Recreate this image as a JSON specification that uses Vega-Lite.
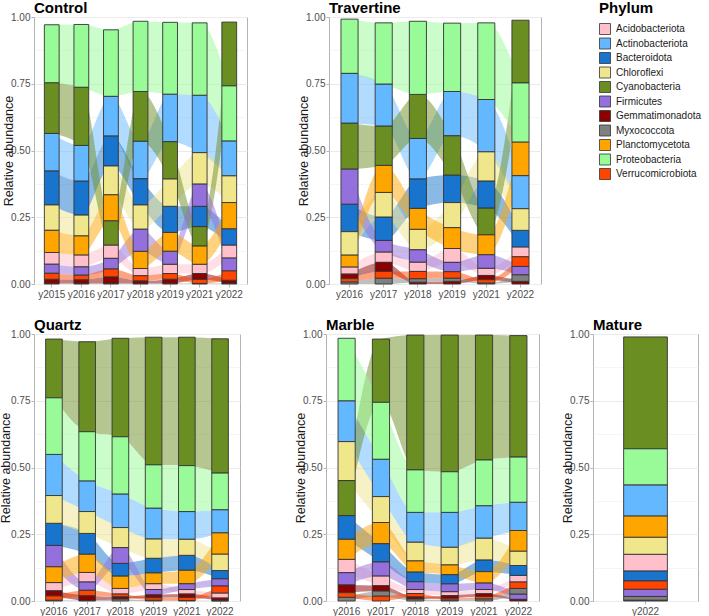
{
"$schema":"https://vega.github.io/schema/vega-lite/v6.json",
"padding":{"left":-1,"top":0,"right":0,"bottom":0},
"data":{"values":[
{"site":"Control","year":"y2015","phylum":"Acidobacteriota","value":0.044},
{"site":"Control","year":"y2015","phylum":"Actinobacteriota","value":0.141},
{"site":"Control","year":"y2015","phylum":"Bacteroidota","value":0.127},
{"site":"Control","year":"y2015","phylum":"Chloroflexi","value":0.095},
{"site":"Control","year":"y2015","phylum":"Cyanobacteria","value":0.190},
{"site":"Control","year":"y2015","phylum":"Firmicutes","value":0.034},
{"site":"Control","year":"y2015","phylum":"Gemmatimonadota","value":0.016},
{"site":"Control","year":"y2015","phylum":"Myxococcota","value":0.002},
{"site":"Control","year":"y2015","phylum":"Planctomycetota","value":0.083},
{"site":"Control","year":"y2015","phylum":"Proteobacteria","value":0.217},
{"site":"Control","year":"y2015","phylum":"Verrucomicrobiota","value":0.022},
{"site":"Control","year":"y2016","phylum":"Acidobacteriota","value":0.045},
{"site":"Control","year":"y2016","phylum":"Actinobacteriota","value":0.134},
{"site":"Control","year":"y2016","phylum":"Bacteroidota","value":0.127},
{"site":"Control","year":"y2016","phylum":"Chloroflexi","value":0.078},
{"site":"Control","year":"y2016","phylum":"Cyanobacteria","value":0.218},
{"site":"Control","year":"y2016","phylum":"Firmicutes","value":0.031},
{"site":"Control","year":"y2016","phylum":"Gemmatimonadota","value":0.014},
{"site":"Control","year":"y2016","phylum":"Myxococcota","value":0.002},
{"site":"Control","year":"y2016","phylum":"Planctomycetota","value":0.071},
{"site":"Control","year":"y2016","phylum":"Proteobacteria","value":0.235},
{"site":"Control","year":"y2016","phylum":"Verrucomicrobiota","value":0.017},
{"site":"Control","year":"y2017","phylum":"Acidobacteriota","value":0.050},
{"site":"Control","year":"y2017","phylum":"Actinobacteriota","value":0.149},
{"site":"Control","year":"y2017","phylum":"Bacteroidota","value":0.112},
{"site":"Control","year":"y2017","phylum":"Chloroflexi","value":0.108},
{"site":"Control","year":"y2017","phylum":"Cyanobacteria","value":0.091},
{"site":"Control","year":"y2017","phylum":"Firmicutes","value":0.040},
{"site":"Control","year":"y2017","phylum":"Gemmatimonadota","value":0.025},
{"site":"Control","year":"y2017","phylum":"Myxococcota","value":0.002},
{"site":"Control","year":"y2017","phylum":"Planctomycetota","value":0.097},
{"site":"Control","year":"y2017","phylum":"Proteobacteria","value":0.249},
{"site":"Control","year":"y2017","phylum":"Verrucomicrobiota","value":0.029},
{"site":"Control","year":"y2018","phylum":"Acidobacteriota","value":0.027},
{"site":"Control","year":"y2018","phylum":"Actinobacteriota","value":0.141},
{"site":"Control","year":"y2018","phylum":"Bacteroidota","value":0.098},
{"site":"Control","year":"y2018","phylum":"Chloroflexi","value":0.091},
{"site":"Control","year":"y2018","phylum":"Cyanobacteria","value":0.186},
{"site":"Control","year":"y2018","phylum":"Firmicutes","value":0.083},
{"site":"Control","year":"y2018","phylum":"Gemmatimonadota","value":0.010},
{"site":"Control","year":"y2018","phylum":"Myxococcota","value":0.002},
{"site":"Control","year":"y2018","phylum":"Planctomycetota","value":0.064},
{"site":"Control","year":"y2018","phylum":"Proteobacteria","value":0.263},
{"site":"Control","year":"y2018","phylum":"Verrucomicrobiota","value":0.019},
{"site":"Control","year":"y2019","phylum":"Acidobacteriota","value":0.035},
{"site":"Control","year":"y2019","phylum":"Actinobacteriota","value":0.178},
{"site":"Control","year":"y2019","phylum":"Bacteroidota","value":0.098},
{"site":"Control","year":"y2019","phylum":"Chloroflexi","value":0.103},
{"site":"Control","year":"y2019","phylum":"Cyanobacteria","value":0.139},
{"site":"Control","year":"y2019","phylum":"Firmicutes","value":0.049},
{"site":"Control","year":"y2019","phylum":"Gemmatimonadota","value":0.016},
{"site":"Control","year":"y2019","phylum":"Myxococcota","value":0.002},
{"site":"Control","year":"y2019","phylum":"Planctomycetota","value":0.070},
{"site":"Control","year":"y2019","phylum":"Proteobacteria","value":0.269},
{"site":"Control","year":"y2019","phylum":"Verrucomicrobiota","value":0.021},
{"site":"Control","year":"y2021","phylum":"Acidobacteriota","value":0.035},
{"site":"Control","year":"y2021","phylum":"Actinobacteriota","value":0.215},
{"site":"Control","year":"y2021","phylum":"Bacteroidota","value":0.076},
{"site":"Control","year":"y2021","phylum":"Chloroflexi","value":0.118},
{"site":"Control","year":"y2021","phylum":"Cyanobacteria","value":0.073},
{"site":"Control","year":"y2021","phylum":"Firmicutes","value":0.083},
{"site":"Control","year":"y2021","phylum":"Gemmatimonadota","value":0.022},
{"site":"Control","year":"y2021","phylum":"Myxococcota","value":0.002},
{"site":"Control","year":"y2021","phylum":"Planctomycetota","value":0.068},
{"site":"Control","year":"y2021","phylum":"Proteobacteria","value":0.271},
{"site":"Control","year":"y2021","phylum":"Verrucomicrobiota","value":0.015},
{"site":"Control","year":"y2022","phylum":"Acidobacteriota","value":0.049},
{"site":"Control","year":"y2022","phylum":"Actinobacteriota","value":0.131},
{"site":"Control","year":"y2022","phylum":"Bacteroidota","value":0.061},
{"site":"Control","year":"y2022","phylum":"Chloroflexi","value":0.100},
{"site":"Control","year":"y2022","phylum":"Cyanobacteria","value":0.239},
{"site":"Control","year":"y2022","phylum":"Firmicutes","value":0.048},
{"site":"Control","year":"y2022","phylum":"Gemmatimonadota","value":0.012},
{"site":"Control","year":"y2022","phylum":"Myxococcota","value":0.002},
{"site":"Control","year":"y2022","phylum":"Planctomycetota","value":0.098},
{"site":"Control","year":"y2022","phylum":"Proteobacteria","value":0.206},
{"site":"Control","year":"y2022","phylum":"Verrucomicrobiota","value":0.035},
{"site":"Travertine","year":"y2016","phylum":"Acidobacteriota","value":0.027},
{"site":"Travertine","year":"y2016","phylum":"Actinobacteriota","value":0.187},
{"site":"Travertine","year":"y2016","phylum":"Bacteroidota","value":0.103},
{"site":"Travertine","year":"y2016","phylum":"Chloroflexi","value":0.088},
{"site":"Travertine","year":"y2016","phylum":"Cyanobacteria","value":0.172},
{"site":"Travertine","year":"y2016","phylum":"Firmicutes","value":0.131},
{"site":"Travertine","year":"y2016","phylum":"Gemmatimonadota","value":0.017},
{"site":"Travertine","year":"y2016","phylum":"Myxococcota","value":0.008},
{"site":"Travertine","year":"y2016","phylum":"Planctomycetota","value":0.044},
{"site":"Travertine","year":"y2016","phylum":"Proteobacteria","value":0.203},
{"site":"Travertine","year":"y2016","phylum":"Verrucomicrobiota","value":0.012},
{"site":"Travertine","year":"y2017","phylum":"Acidobacteriota","value":0.039},
{"site":"Travertine","year":"y2017","phylum":"Actinobacteriota","value":0.158},
{"site":"Travertine","year":"y2017","phylum":"Bacteroidota","value":0.088},
{"site":"Travertine","year":"y2017","phylum":"Chloroflexi","value":0.092},
{"site":"Travertine","year":"y2017","phylum":"Cyanobacteria","value":0.147},
{"site":"Travertine","year":"y2017","phylum":"Firmicutes","value":0.043},
{"site":"Travertine","year":"y2017","phylum":"Gemmatimonadota","value":0.034},
{"site":"Travertine","year":"y2017","phylum":"Myxococcota","value":0.022},
{"site":"Travertine","year":"y2017","phylum":"Planctomycetota","value":0.101},
{"site":"Travertine","year":"y2017","phylum":"Proteobacteria","value":0.229},
{"site":"Travertine","year":"y2017","phylum":"Verrucomicrobiota","value":0.025},
{"site":"Travertine","year":"y2018","phylum":"Acidobacteriota","value":0.035},
{"site":"Travertine","year":"y2018","phylum":"Actinobacteriota","value":0.152},
{"site":"Travertine","year":"y2018","phylum":"Bacteroidota","value":0.110},
{"site":"Travertine","year":"y2018","phylum":"Chloroflexi","value":0.077},
{"site":"Travertine","year":"y2018","phylum":"Cyanobacteria","value":0.165},
{"site":"Travertine","year":"y2018","phylum":"Firmicutes","value":0.046},
{"site":"Travertine","year":"y2018","phylum":"Gemmatimonadota","value":0.007},
{"site":"Travertine","year":"y2018","phylum":"Myxococcota","value":0.013},
{"site":"Travertine","year":"y2018","phylum":"Planctomycetota","value":0.078},
{"site":"Travertine","year":"y2018","phylum":"Proteobacteria","value":0.274},
{"site":"Travertine","year":"y2018","phylum":"Verrucomicrobiota","value":0.027},
{"site":"Travertine","year":"y2019","phylum":"Acidobacteriota","value":0.052},
{"site":"Travertine","year":"y2019","phylum":"Actinobacteriota","value":0.166},
{"site":"Travertine","year":"y2019","phylum":"Bacteroidota","value":0.103},
{"site":"Travertine","year":"y2019","phylum":"Chloroflexi","value":0.094},
{"site":"Travertine","year":"y2019","phylum":"Cyanobacteria","value":0.147},
{"site":"Travertine","year":"y2019","phylum":"Firmicutes","value":0.035},
{"site":"Travertine","year":"y2019","phylum":"Gemmatimonadota","value":0.010},
{"site":"Travertine","year":"y2019","phylum":"Myxococcota","value":0.012},
{"site":"Travertine","year":"y2019","phylum":"Planctomycetota","value":0.078},
{"site":"Travertine","year":"y2019","phylum":"Proteobacteria","value":0.256},
{"site":"Travertine","year":"y2019","phylum":"Verrucomicrobiota","value":0.024},
{"site":"Travertine","year":"y2021","phylum":"Acidobacteriota","value":0.027},
{"site":"Travertine","year":"y2021","phylum":"Actinobacteriota","value":0.196},
{"site":"Travertine","year":"y2021","phylum":"Bacteroidota","value":0.102},
{"site":"Travertine","year":"y2021","phylum":"Chloroflexi","value":0.109},
{"site":"Travertine","year":"y2021","phylum":"Cyanobacteria","value":0.100},
{"site":"Travertine","year":"y2021","phylum":"Firmicutes","value":0.051},
{"site":"Travertine","year":"y2021","phylum":"Gemmatimonadota","value":0.016},
{"site":"Travertine","year":"y2021","phylum":"Myxococcota","value":0.004},
{"site":"Travertine","year":"y2021","phylum":"Planctomycetota","value":0.074},
{"site":"Travertine","year":"y2021","phylum":"Proteobacteria","value":0.287},
{"site":"Travertine","year":"y2021","phylum":"Verrucomicrobiota","value":0.012},
{"site":"Travertine","year":"y2022","phylum":"Acidobacteriota","value":0.037},
{"site":"Travertine","year":"y2022","phylum":"Actinobacteriota","value":0.124},
{"site":"Travertine","year":"y2022","phylum":"Bacteroidota","value":0.062},
{"site":"Travertine","year":"y2022","phylum":"Chloroflexi","value":0.081},
{"site":"Travertine","year":"y2022","phylum":"Cyanobacteria","value":0.235},
{"site":"Travertine","year":"y2022","phylum":"Firmicutes","value":0.032},
{"site":"Travertine","year":"y2022","phylum":"Gemmatimonadota","value":0.010},
{"site":"Travertine","year":"y2022","phylum":"Myxococcota","value":0.024},
{"site":"Travertine","year":"y2022","phylum":"Planctomycetota","value":0.126},
{"site":"Travertine","year":"y2022","phylum":"Proteobacteria","value":0.221},
{"site":"Travertine","year":"y2022","phylum":"Verrucomicrobiota","value":0.036},
{"site":"Quartz","year":"y2016","phylum":"Acidobacteriota","value":0.031},
{"site":"Quartz","year":"y2016","phylum":"Actinobacteriota","value":0.154},
{"site":"Quartz","year":"y2016","phylum":"Bacteroidota","value":0.083},
{"site":"Quartz","year":"y2016","phylum":"Chloroflexi","value":0.104},
{"site":"Quartz","year":"y2016","phylum":"Cyanobacteria","value":0.220},
{"site":"Quartz","year":"y2016","phylum":"Firmicutes","value":0.080},
{"site":"Quartz","year":"y2016","phylum":"Gemmatimonadota","value":0.019},
{"site":"Quartz","year":"y2016","phylum":"Myxococcota","value":0.003},
{"site":"Quartz","year":"y2016","phylum":"Planctomycetota","value":0.059},
{"site":"Quartz","year":"y2016","phylum":"Proteobacteria","value":0.212},
{"site":"Quartz","year":"y2016","phylum":"Verrucomicrobiota","value":0.016},
{"site":"Quartz","year":"y2017","phylum":"Acidobacteriota","value":0.036},
{"site":"Quartz","year":"y2017","phylum":"Actinobacteriota","value":0.115},
{"site":"Quartz","year":"y2017","phylum":"Bacteroidota","value":0.078},
{"site":"Quartz","year":"y2017","phylum":"Chloroflexi","value":0.082},
{"site":"Quartz","year":"y2017","phylum":"Cyanobacteria","value":0.337},
{"site":"Quartz","year":"y2017","phylum":"Firmicutes","value":0.031},
{"site":"Quartz","year":"y2017","phylum":"Gemmatimonadota","value":0.018},
{"site":"Quartz","year":"y2017","phylum":"Myxococcota","value":0.002},
{"site":"Quartz","year":"y2017","phylum":"Planctomycetota","value":0.068},
{"site":"Quartz","year":"y2017","phylum":"Proteobacteria","value":0.184},
{"site":"Quartz","year":"y2017","phylum":"Verrucomicrobiota","value":0.020},
{"site":"Quartz","year":"y2018","phylum":"Acidobacteriota","value":0.021},
{"site":"Quartz","year":"y2018","phylum":"Actinobacteriota","value":0.126},
{"site":"Quartz","year":"y2018","phylum":"Bacteroidota","value":0.048},
{"site":"Quartz","year":"y2018","phylum":"Chloroflexi","value":0.075},
{"site":"Quartz","year":"y2018","phylum":"Cyanobacteria","value":0.369},
{"site":"Quartz","year":"y2018","phylum":"Firmicutes","value":0.059},
{"site":"Quartz","year":"y2018","phylum":"Gemmatimonadota","value":0.009},
{"site":"Quartz","year":"y2018","phylum":"Myxococcota","value":0.007},
{"site":"Quartz","year":"y2018","phylum":"Planctomycetota","value":0.046},
{"site":"Quartz","year":"y2018","phylum":"Proteobacteria","value":0.214},
{"site":"Quartz","year":"y2018","phylum":"Verrucomicrobiota","value":0.010},
{"site":"Quartz","year":"y2019","phylum":"Acidobacteriota","value":0.022},
{"site":"Quartz","year":"y2019","phylum":"Actinobacteriota","value":0.116},
{"site":"Quartz","year":"y2019","phylum":"Bacteroidota","value":0.055},
{"site":"Quartz","year":"y2019","phylum":"Chloroflexi","value":0.072},
{"site":"Quartz","year":"y2019","phylum":"Cyanobacteria","value":0.478},
{"site":"Quartz","year":"y2019","phylum":"Firmicutes","value":0.020},
{"site":"Quartz","year":"y2019","phylum":"Gemmatimonadota","value":0.011},
{"site":"Quartz","year":"y2019","phylum":"Myxococcota","value":0.003},
{"site":"Quartz","year":"y2019","phylum":"Planctomycetota","value":0.040},
{"site":"Quartz","year":"y2019","phylum":"Proteobacteria","value":0.162},
{"site":"Quartz","year":"y2019","phylum":"Verrucomicrobiota","value":0.009},
{"site":"Quartz","year":"y2021","phylum":"Acidobacteriota","value":0.017},
{"site":"Quartz","year":"y2021","phylum":"Actinobacteriota","value":0.104},
{"site":"Quartz","year":"y2021","phylum":"Bacteroidota","value":0.056},
{"site":"Quartz","year":"y2021","phylum":"Chloroflexi","value":0.060},
{"site":"Quartz","year":"y2021","phylum":"Cyanobacteria","value":0.481},
{"site":"Quartz","year":"y2021","phylum":"Firmicutes","value":0.022},
{"site":"Quartz","year":"y2021","phylum":"Gemmatimonadota","value":0.013},
{"site":"Quartz","year":"y2021","phylum":"Myxococcota","value":0.002},
{"site":"Quartz","year":"y2021","phylum":"Planctomycetota","value":0.050},
{"site":"Quartz","year":"y2021","phylum":"Proteobacteria","value":0.172},
{"site":"Quartz","year":"y2021","phylum":"Verrucomicrobiota","value":0.011},
{"site":"Quartz","year":"y2022","phylum":"Acidobacteriota","value":0.019},
{"site":"Quartz","year":"y2022","phylum":"Actinobacteriota","value":0.087},
{"site":"Quartz","year":"y2022","phylum":"Bacteroidota","value":0.031},
{"site":"Quartz","year":"y2022","phylum":"Chloroflexi","value":0.062},
{"site":"Quartz","year":"y2022","phylum":"Cyanobacteria","value":0.503},
{"site":"Quartz","year":"y2022","phylum":"Firmicutes","value":0.027},
{"site":"Quartz","year":"y2022","phylum":"Gemmatimonadota","value":0.010},
{"site":"Quartz","year":"y2022","phylum":"Myxococcota","value":0.001},
{"site":"Quartz","year":"y2022","phylum":"Planctomycetota","value":0.079},
{"site":"Quartz","year":"y2022","phylum":"Proteobacteria","value":0.137},
{"site":"Quartz","year":"y2022","phylum":"Verrucomicrobiota","value":0.026},
{"site":"Marble","year":"y2016","phylum":"Acidobacteriota","value":0.050},
{"site":"Marble","year":"y2016","phylum":"Actinobacteriota","value":0.153},
{"site":"Marble","year":"y2016","phylum":"Bacteroidota","value":0.089},
{"site":"Marble","year":"y2016","phylum":"Chloroflexi","value":0.146},
{"site":"Marble","year":"y2016","phylum":"Cyanobacteria","value":0.131},
{"site":"Marble","year":"y2016","phylum":"Firmicutes","value":0.046},
{"site":"Marble","year":"y2016","phylum":"Gemmatimonadota","value":0.029},
{"site":"Marble","year":"y2016","phylum":"Myxococcota","value":0.014},
{"site":"Marble","year":"y2016","phylum":"Planctomycetota","value":0.075},
{"site":"Marble","year":"y2016","phylum":"Proteobacteria","value":0.234},
{"site":"Marble","year":"y2016","phylum":"Verrucomicrobiota","value":0.017},
{"site":"Marble","year":"y2017","phylum":"Acidobacteriota","value":0.037},
{"site":"Marble","year":"y2017","phylum":"Actinobacteriota","value":0.140},
{"site":"Marble","year":"y2017","phylum":"Bacteroidota","value":0.069},
{"site":"Marble","year":"y2017","phylum":"Chloroflexi","value":0.097},
{"site":"Marble","year":"y2017","phylum":"Cyanobacteria","value":0.237},
{"site":"Marble","year":"y2017","phylum":"Firmicutes","value":0.052},
{"site":"Marble","year":"y2017","phylum":"Gemmatimonadota","value":0.020},
{"site":"Marble","year":"y2017","phylum":"Myxococcota","value":0.019},
{"site":"Marble","year":"y2017","phylum":"Planctomycetota","value":0.079},
{"site":"Marble","year":"y2017","phylum":"Proteobacteria","value":0.213},
{"site":"Marble","year":"y2017","phylum":"Verrucomicrobiota","value":0.018},
{"site":"Marble","year":"y2018","phylum":"Acidobacteriota","value":0.015},
{"site":"Marble","year":"y2018","phylum":"Actinobacteriota","value":0.112},
{"site":"Marble","year":"y2018","phylum":"Bacteroidota","value":0.037},
{"site":"Marble","year":"y2018","phylum":"Chloroflexi","value":0.070},
{"site":"Marble","year":"y2018","phylum":"Cyanobacteria","value":0.505},
{"site":"Marble","year":"y2018","phylum":"Firmicutes","value":0.029},
{"site":"Marble","year":"y2018","phylum":"Gemmatimonadota","value":0.009},
{"site":"Marble","year":"y2018","phylum":"Myxococcota","value":0.007},
{"site":"Marble","year":"y2018","phylum":"Planctomycetota","value":0.041},
{"site":"Marble","year":"y2018","phylum":"Proteobacteria","value":0.159},
{"site":"Marble","year":"y2018","phylum":"Verrucomicrobiota","value":0.012},
{"site":"Marble","year":"y2019","phylum":"Acidobacteriota","value":0.015},
{"site":"Marble","year":"y2019","phylum":"Actinobacteriota","value":0.131},
{"site":"Marble","year":"y2019","phylum":"Bacteroidota","value":0.035},
{"site":"Marble","year":"y2019","phylum":"Chloroflexi","value":0.066},
{"site":"Marble","year":"y2019","phylum":"Cyanobacteria","value":0.512},
{"site":"Marble","year":"y2019","phylum":"Firmicutes","value":0.029},
{"site":"Marble","year":"y2019","phylum":"Gemmatimonadota","value":0.010},
{"site":"Marble","year":"y2019","phylum":"Myxococcota","value":0.004},
{"site":"Marble","year":"y2019","phylum":"Planctomycetota","value":0.036},
{"site":"Marble","year":"y2019","phylum":"Proteobacteria","value":0.152},
{"site":"Marble","year":"y2019","phylum":"Verrucomicrobiota","value":0.006},
{"site":"Marble","year":"y2021","phylum":"Acidobacteriota","value":0.016},
{"site":"Marble","year":"y2021","phylum":"Actinobacteriota","value":0.122},
{"site":"Marble","year":"y2021","phylum":"Bacteroidota","value":0.044},
{"site":"Marble","year":"y2021","phylum":"Chloroflexi","value":0.081},
{"site":"Marble","year":"y2021","phylum":"Cyanobacteria","value":0.468},
{"site":"Marble","year":"y2021","phylum":"Firmicutes","value":0.025},
{"site":"Marble","year":"y2021","phylum":"Gemmatimonadota","value":0.010},
{"site":"Marble","year":"y2021","phylum":"Myxococcota","value":0.008},
{"site":"Marble","year":"y2021","phylum":"Planctomycetota","value":0.042},
{"site":"Marble","year":"y2021","phylum":"Proteobacteria","value":0.171},
{"site":"Marble","year":"y2021","phylum":"Verrucomicrobiota","value":0.009},
{"site":"Marble","year":"y2022","phylum":"Acidobacteriota","value":0.025},
{"site":"Marble","year":"y2022","phylum":"Actinobacteriota","value":0.106},
{"site":"Marble","year":"y2022","phylum":"Bacteroidota","value":0.037},
{"site":"Marble","year":"y2022","phylum":"Chloroflexi","value":0.054},
{"site":"Marble","year":"y2022","phylum":"Cyanobacteria","value":0.455},
{"site":"Marble","year":"y2022","phylum":"Firmicutes","value":0.020},
{"site":"Marble","year":"y2022","phylum":"Gemmatimonadota","value":0.006},
{"site":"Marble","year":"y2022","phylum":"Myxococcota","value":0.021},
{"site":"Marble","year":"y2022","phylum":"Planctomycetota","value":0.077},
{"site":"Marble","year":"y2022","phylum":"Proteobacteria","value":0.169},
{"site":"Marble","year":"y2022","phylum":"Verrucomicrobiota","value":0.024},
{"site":"Mature","year":"y2022","phylum":"Acidobacteriota","value":0.063},
{"site":"Mature","year":"y2022","phylum":"Actinobacteriota","value":0.117},
{"site":"Mature","year":"y2022","phylum":"Bacteroidota","value":0.037},
{"site":"Mature","year":"y2022","phylum":"Chloroflexi","value":0.064},
{"site":"Mature","year":"y2022","phylum":"Cyanobacteria","value":0.419},
{"site":"Mature","year":"y2022","phylum":"Firmicutes","value":0.027},
{"site":"Mature","year":"y2022","phylum":"Gemmatimonadota","value":0.003},
{"site":"Mature","year":"y2022","phylum":"Myxococcota","value":0.014},
{"site":"Mature","year":"y2022","phylum":"Planctomycetota","value":0.079},
{"site":"Mature","year":"y2022","phylum":"Proteobacteria","value":0.135},
{"site":"Mature","year":"y2022","phylum":"Verrucomicrobiota","value":0.031}
]},
"resolve":{"scale":{"x":"independent","y":"independent"}},
"spacing":17,
"vconcat":[
{"hconcat":[
{"title":{"text":"Control"},"width":213,"height":267,
"transform":[{"filter":{"field":"site","equal":"Control"}},{"stack":"value","groupby":["year"],"sort":[{"field":"value","order":"ascending"}],"as":["y0","y1"]}],
"encoding":{"y":{"field":"y0","type":"quantitative","title":"Relative abundance","scale":{"domain":[0,1],"nice":false},"axis":{"values":[0,0.125,0.25,0.375,0.5,0.625,0.75,0.875,1]}},"y2":{"field":"y1"},
"color":{"field":"phylum","type":"nominal","title":"Phylum","scale":{"domain":["Acidobacteriota","Actinobacteriota","Bacteroidota","Chloroflexi","Cyanobacteria","Firmicutes","Gemmatimonadota","Myxococcota","Planctomycetota","Proteobacteria","Verrucomicrobiota"],"range":["#FFC0CB","#63B8FF","#1874CD","#F0E68C","#6B8E23","#9370DB","#8B0000","#808080","#FFA500","#98FB98","#FF4500"]}}},
"layer":[
{"mark":{"type":"area","interpolate":"monotone","opacity":0.5},"encoding":{"x":{"field":"year","type":"ordinal","title":null,"bandPosition":0.5,"scale":{"type":"band","paddingInner":0.5,"paddingOuter":0.35}}}},
{"mark":{"type":"bar","stroke":"#333333","strokeWidth":0.9},"encoding":{"x":{"field":"year","type":"ordinal","title":null,"scale":{"type":"band","paddingInner":0.5,"paddingOuter":0.35}}}}
]},
{"title":{"text":"Travertine"},"width":212,"height":267,
"transform":[{"filter":{"field":"site","equal":"Travertine"}},{"stack":"value","groupby":["year"],"sort":[{"field":"value","order":"ascending"}],"as":["y0","y1"]}],
"encoding":{"y":{"field":"y0","type":"quantitative","title":"Relative abundance","scale":{"domain":[0,1],"nice":false},"axis":{"values":[0,0.125,0.25,0.375,0.5,0.625,0.75,0.875,1]}},"y2":{"field":"y1"},
"color":{"field":"phylum","type":"nominal","title":"Phylum"}},
"layer":[
{"mark":{"type":"area","interpolate":"monotone","opacity":0.5},"encoding":{"x":{"field":"year","type":"ordinal","title":null,"bandPosition":0.5,"scale":{"type":"band","paddingInner":0.5,"paddingOuter":0.35}}}},
{"mark":{"type":"bar","stroke":"#333333","strokeWidth":0.9},"encoding":{"x":{"field":"year","type":"ordinal","title":null,"scale":{"type":"band","paddingInner":0.5,"paddingOuter":0.35}}}}
]}
],"spacing":49,"resolve":{"scale":{"x":"independent","y":"independent"}}},
{"hconcat":[
{"title":{"text":"Quartz"},"width":206,"height":267,
"transform":[{"filter":{"field":"site","equal":"Quartz"}},{"stack":"value","groupby":["year"],"sort":[{"field":"value","order":"ascending"}],"as":["y0","y1"]}],
"encoding":{"y":{"field":"y0","type":"quantitative","title":"Relative abundance","scale":{"domain":[0,1],"nice":false},"axis":{"values":[0,0.125,0.25,0.375,0.5,0.625,0.75,0.875,1],"titlePadding":-2}},"y2":{"field":"y1"},
"color":{"field":"phylum","type":"nominal","title":"Phylum"}},
"layer":[
{"mark":{"type":"area","interpolate":"monotone","opacity":0.5},"encoding":{"x":{"field":"year","type":"ordinal","title":null,"bandPosition":0.5,"scale":{"type":"band","paddingInner":0.5,"paddingOuter":0.35}}}},
{"mark":{"type":"bar","stroke":"#333333","strokeWidth":0.9},"encoding":{"x":{"field":"year","type":"ordinal","title":null,"scale":{"type":"band","paddingInner":0.5,"paddingOuter":0.35}}}}
]},
{"hconcat":[
{"title":{"text":"Marble"},"width":213,"height":267,
"transform":[{"filter":{"field":"site","equal":"Marble"}},{"stack":"value","groupby":["year"],"sort":[{"field":"value","order":"ascending"}],"as":["y0","y1"]}],
"encoding":{"y":{"field":"y0","type":"quantitative","title":"Relative abundance","scale":{"domain":[0,1],"nice":false},"axis":{"values":[0,0.125,0.25,0.375,0.5,0.625,0.75,0.875,1]}},"y2":{"field":"y1"},
"color":{"field":"phylum","type":"nominal","title":"Phylum"}},
"layer":[
{"mark":{"type":"area","interpolate":"monotone","opacity":0.5},"encoding":{"x":{"field":"year","type":"ordinal","title":null,"bandPosition":0.5,"scale":{"type":"band","paddingInner":0.5,"paddingOuter":0.35}}}},
{"mark":{"type":"bar","stroke":"#333333","strokeWidth":0.9},"encoding":{"x":{"field":"year","type":"ordinal","title":null,"scale":{"type":"band","paddingInner":0.5,"paddingOuter":0.35}}}}
]},
{"title":{"text":"Mature"},"width":105,"height":267,
"transform":[{"filter":{"field":"site","equal":"Mature"}},{"stack":"value","groupby":["year"],"sort":[{"field":"value","order":"ascending"}],"as":["y0","y1"]}],
"mark":{"type":"bar","stroke":"#333333","strokeWidth":0.9},
"encoding":{"x":{"field":"year","type":"ordinal","title":null,"scale":{"type":"band","paddingInner":0.5,"paddingOuter":0.35}},
"y":{"field":"y0","type":"quantitative","title":"Relative abundance","scale":{"domain":[0,1],"nice":false},"axis":{"values":[0,0.125,0.25,0.375,0.5,0.625,0.75,0.875,1]}},"y2":{"field":"y1"},
"color":{"field":"phylum","type":"nominal","title":"Phylum"}}}
],"spacing":21,"resolve":{"scale":{"x":"independent","y":"independent"}}}
],"spacing":53,"resolve":{"scale":{"x":"independent","y":"independent"}}}
],
"config":{
"font":"Liberation Sans",
"view":{"stroke":"#b3b3b3","strokeWidth":1},
"axis":{"domain":false,"labelColor":"#4d4d4d","labelFontSize":10,"tickColor":"#b3b3b3","tickSize":3,"gridColor":"#ebebeb","titleFontSize":12.5,"titleFontWeight":"normal","titleColor":"#1a1a1a","labelPadding":1,"titlePadding":-5},
"axisX":{"labelAngle":0,"labelPadding":2},
"axisY":{"labelOverlap":false,"labelExpr":"(datum.value*4)%1 ? '' : format(datum.value,'.2f')","tickOpacity":{"condition":{"test":"(datum.value*4)%1 !== 0","value":0},"value":1},"gridWidth":{"condition":{"test":"(datum.value*4)%1 !== 0","value":0.5},"value":1}},
"title":{"fontSize":15,"fontWeight":"bold","anchor":"start","frame":"group","offset":-4,"color":"#000"},
"legend":{"orient":"none","legendX":565,"legendY":-16,"titleFontSize":15,"titleFontWeight":"bold","titleColor":"#000","labelFontSize":10,"labelColor":"#1a1a1a","symbolType":"square","symbolSize":121,"symbolOpacity":1,"symbolStrokeColor":"#333333","symbolStrokeWidth":0.8,"rowPadding":-1.5,"labelOffset":5,"titlePadding":7}
}
}
